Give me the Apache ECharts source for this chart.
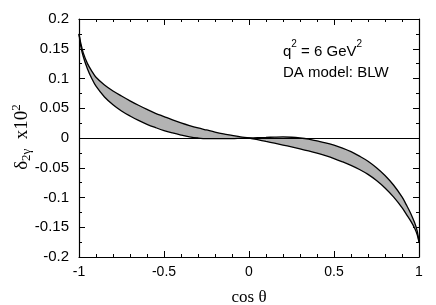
<!DOCTYPE html>
<html>
<head>
<meta charset="utf-8">
<script src="https://cdn.jsdelivr.net/npm/echarts@6/dist/echarts.min.js"></script>
<style>
html,body{margin:0;padding:0;background:#fff;}
#chart{width:436px;height:305px;}
</style>
</head>
<body>
<div id="chart"></div>
<script>
// cos(theta) sample points
const cosTheta = [-1, -0.99, -0.975, -0.95, -0.925, -0.9, -0.85, -0.8, -0.75, -0.7, -0.65, -0.6, -0.55, -0.5, -0.45, -0.4, -0.35, -0.3, -0.25, -0.2, -0.15, -0.1, -0.05, 0,
  0.05, 0.1, 0.15, 0.2, 0.25, 0.3, 0.35, 0.4, 0.45, 0.5, 0.55, 0.6, 0.65, 0.7, 0.75, 0.8, 0.85, 0.9, 0.925, 0.95, 0.975, 0.99, 1];
// curve A: upper edge of band for cos<0, lower edge for cos>0
const curveA = [0.175, 0.160, 0.143, 0.125, 0.1125, 0.102, 0.089, 0.079, 0.0705, 0.0625, 0.055, 0.048, 0.0415, 0.036, 0.0305, 0.0255, 0.021, 0.017, 0.0135, 0.010, 0.007, 0.0045, 0.002, 0,
  -0.0029, -0.0058, -0.0087, -0.0118, -0.015, -0.0183, -0.0218, -0.0256, -0.0298, -0.0345, -0.040, -0.046, -0.053, -0.0612, -0.0715, -0.084, -0.099, -0.117, -0.128, -0.139, -0.152, -0.163, -0.175];
// curve B: lower edge of band for cos<0, upper edge for cos>0
const curveB = [0.175, 0.155, 0.137, 0.116, 0.100, 0.087, 0.069, 0.056, 0.0455, 0.037, 0.0295, 0.023, 0.0175, 0.0125, 0.0085, 0.005, 0.002, 0.0, -0.001, -0.001, -0.001, -0.001, -0.0005, 0,
  0.0005, 0.001, 0.0015, 0.0018, 0.0013, 0, -0.002, -0.005, -0.008, -0.012, -0.017, -0.023, -0.0305, -0.039, -0.050, -0.063, -0.079, -0.099, -0.112, -0.126, -0.143, -0.157, -0.175];

const xRange = [-1, 1];
const yRange = [-0.2, 0.2];
const annotation1 = '{t|q}{sup|2}{t| = 6 GeV}{sup|2}';
const annotation2 = 'DA model: BLW';
const xTitle = 'cos θ';
const yTitle = '{m|δ}{sub|2γ}{m|  x10}{sup|2}';

const sans = 'Liberation Sans, Arial, Helvetica, sans-serif';
const serif = 'Liberation Serif, Times New Roman, serif';

const chart = echarts.init(document.getElementById('chart'), null, {renderer: 'canvas'});

// data stored as [value, cos] so the stacked dimension is the y value
const lowerEdge = cosTheta.map((c, i) => [Math.min(curveA[i], curveB[i]), c]);
const bandWidth = cosTheta.map((c, i) => [Math.abs(curveA[i] - curveB[i]), c]);
const lineA = cosTheta.map((c, i) => [c, curveA[i]]);
const lineB = cosTheta.map((c, i) => [c, curveB[i]]);

const axisCommon = {
  axisLine: {show: true, onZero: false, lineStyle: {color: '#000', width: 1.2}},
  splitLine: {show: false},
  axisTick: {show: true, inside: true, length: 6, lineStyle: {color: '#000', width: 1}},
  minorTick: {show: true, length: 3, lineStyle: {color: '#000', width: 1}}
};

const smoothVal = 0.35;

chart.setOption({
  animation: false,
  backgroundColor: '#fff',
  grid: {left: 79, right: 17, top: 19, bottom: 48},
  xAxis: [
    Object.assign({}, axisCommon, {
      type: 'value', min: xRange[0], max: xRange[1], interval: 0.5, position: 'bottom',
      minorTick: Object.assign({}, axisCommon.minorTick, {splitNumber: 5}),
      axisLabel: {show: true, color: '#000', fontFamily: sans, fontSize: 14, margin: 8}
    }),
    Object.assign({}, axisCommon, {
      type: 'value', min: xRange[0], max: xRange[1], interval: 0.5, position: 'top',
      minorTick: Object.assign({}, axisCommon.minorTick, {splitNumber: 5}),
      axisLabel: {show: false}
    })
  ],
  yAxis: [
    Object.assign({}, axisCommon, {
      type: 'value', min: yRange[0], max: yRange[1], interval: 0.05, position: 'left',
      minorTick: Object.assign({}, axisCommon.minorTick, {splitNumber: 2}),
      axisLabel: {show: true, color: '#000', fontFamily: sans, fontSize: 15, margin: 10}
    }),
    Object.assign({}, axisCommon, {
      type: 'value', min: yRange[0], max: yRange[1], interval: 0.05, position: 'right',
      minorTick: Object.assign({}, axisCommon.minorTick, {splitNumber: 2}),
      axisLabel: {show: false}
    })
  ],
  graphic: [
    {
      type: 'text', left: 283, top: 39, silent: true, z: 100,
      style: {
        text: annotation1, fill: '#000',
        rich: {
          t: {fontFamily: sans, fontSize: 15, fill: '#000', lineHeight: 20, verticalAlign: 'bottom'},
          sup: {fontFamily: sans, fontSize: 10, fill: '#000', lineHeight: 20, verticalAlign: 'top', padding: [0, 0, 8, 0]}
        }
      }
    },
    {
      type: 'text', left: 283, top: 65, silent: true, z: 100,
      style: {text: annotation2, fill: '#000', font: '15px ' + sans}
    },
    {
      type: 'text', x: 249, y: 298, silent: true, z: 100,
      style: {text: xTitle, fill: '#000', font: '17px ' + serif, align: 'center', verticalAlign: 'middle'}
    },
    {
      type: 'text', x: 22, y: 137, rotation: Math.PI / 2, silent: true, z: 100,
      style: {
        text: yTitle, fill: '#000', align: 'center', verticalAlign: 'middle',
        rich: {
          m: {fontFamily: serif, fontSize: 19, fill: '#000', lineHeight: 24},
          sub: {fontFamily: serif, fontSize: 13, fill: '#000', lineHeight: 24, padding: [10, 0, 0, 0]},
          sup: {fontFamily: serif, fontSize: 13, fill: '#000', lineHeight: 24, padding: [0, 0, 10, 0]}
        }
      }
    }
  ],
  series: [
    {
      name: 'base', type: 'line', data: lowerEdge, encode: {x: 1, y: 0},
      stack: 'band', stackStrategy: 'all',
      symbol: 'none', smooth: smoothVal, lineStyle: {opacity: 0}, silent: true, z: 1
    },
    {
      name: 'band', type: 'line', data: bandWidth, encode: {x: 1, y: 0},
      stack: 'band', stackStrategy: 'all',
      symbol: 'none', smooth: smoothVal, lineStyle: {opacity: 0},
      areaStyle: {color: '#b3b3b3', opacity: 1}, silent: true, z: 1
    },
    {
      name: 'A', type: 'line', data: lineA, symbol: 'none', smooth: smoothVal,
      lineStyle: {color: '#000', width: 1.3}, z: 3,
      markLine: {
        silent: true, symbol: ['none', 'none'], label: {show: false},
        lineStyle: {color: '#000', width: 1, type: 'solid'},
        data: [{yAxis: 0}]
      }
    },
    {
      name: 'B', type: 'line', data: lineB, symbol: 'none', smooth: smoothVal,
      lineStyle: {color: '#000', width: 1.3}, z: 3
    }
  ]
});
</script>
</body>
</html>
